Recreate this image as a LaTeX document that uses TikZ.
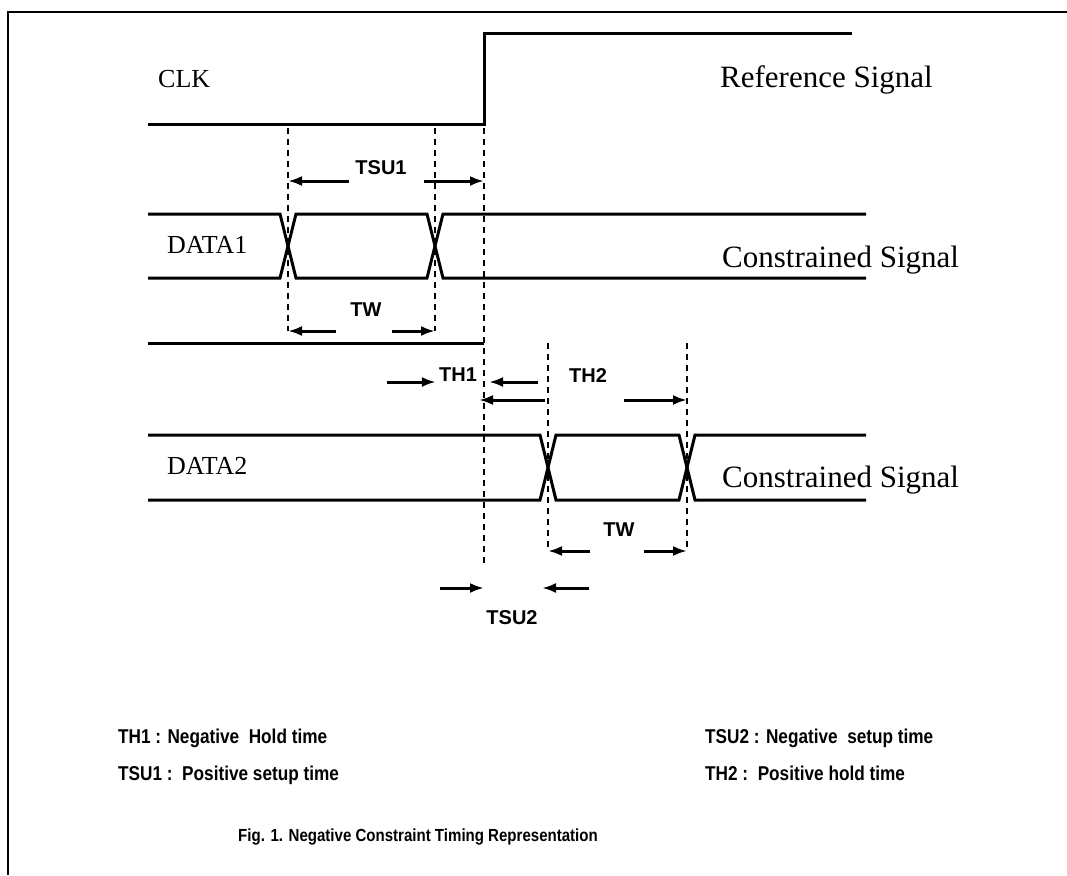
\documentclass[tikz,border=0pt]{standalone}
\usepackage{fontspec}
\setmainfont{Liberation Serif}
\setsansfont{Liberation Sans}
\newfontfamily\legendfont[FakeStretch=0.86]{Liberation Sans}
\usetikzlibrary{arrows.meta,positioning,calc}

\begin{document}
\begin{tikzpicture}[x=1pt, y=-1pt,
  wave/.style={line width=3pt, line join=miter},
  guide/.style={line width=2.8pt, dash pattern=on 6pt off 5pt},
  arr/.style={-{Latex[length=14pt, width=10pt]}, line width=3pt},
  signame/.style={font=\fontsize{26}{30}\selectfont, anchor=base west, inner sep=0pt},
  sigkind/.style={font=\fontsize{31}{36}\selectfont, anchor=base west, inner sep=0pt},
  tlabel/.style={font=\fontsize{20}{24}\selectfont\sffamily\bfseries, inner sep=0pt},
  legend/.style={font=\fontsize{20}{24}\selectfont\legendfont\bfseries, anchor=base west, inner sep=0pt}
]
  \useasboundingbox (0,0) rectangle (1067,875);
  \draw[line width=2.6pt] (8,875) -- (8,12) -- (1067,12);

  \draw[wave] (148,124) -- (484,124) -- (484,34) -- (852,34);
  \draw[wave] (148,343) -- (484,343);
  \foreach \hi/\lo/\a/\b in {214/278/288/435, 435/500/548/687} {
    \draw[wave] (148,\hi) -- (\a-8,\hi) -- (\a+8,\lo) -- (\b-8,\lo) -- (\b+8,\hi) -- (866,\hi);
    \draw[wave] (148,\lo) -- (\a-8,\lo) -- (\a+8,\hi) -- (\b-8,\hi) -- (\b+8,\lo) -- (866,\lo);
  }

  \node[signame] (clk) at (158,87) {CLK};
  \node[signame] (data1) at (167,253) {DATA1};
  \node[signame] (data2) at (167,474) {DATA2};
  \node[sigkind] (refsig) at (720,87) {Reference Signal};
  \node[sigkind] (con1) at (722,267) {Constrained Signal};
  \node[sigkind] (con2) at (722,487) {Constrained Signal};

  \coordinate (g1) at (288,128);
  \coordinate (g2) at (435,128);
  \coordinate (g3) at (484,128);
  \coordinate (g4) at (548,343);
  \coordinate (g5) at (687,343);
  \coordinate (twA) at (0,331);
  \coordinate (twB) at (0,551);
  \coordinate (gend) at (0,567);

  \draw[guide] (g1) -- (g1 |- twA);
  \draw[guide] (g2) -- (g2 |- twA);
  \draw[guide] (g3) -- (g3 |- gend);
  \draw[guide] (g4) -- (g4 |- twB);
  \draw[guide] (g5) -- (g5 |- twB);

  \node[tlabel] (tsu1) at (381,168) {TSU1};
  \node[tlabel] (tw1) at (366,310) {TW};
  \node[tlabel] (th1) at (458,375) {TH1};
  \node[tlabel] (th2) at (588,376) {TH2};
  \node[tlabel] (tw2) at (619,530) {TW};
  \node[tlabel] (tsu2) at (512,618) {TSU2};

  \coordinate (a1) at (349,181);
  \coordinate (a2) at (424,181);
  \coordinate (a3) at (336,331);
  \coordinate (a4) at (392,331);
  \coordinate (a5) at (387,382);
  \coordinate (a6) at (538,382);
  \coordinate (a7) at (545,400);
  \coordinate (a8) at (624,400);
  \coordinate (a9) at (590,551);
  \coordinate (a10) at (644,551);
  \coordinate (a11) at (440,588);
  \coordinate (a12) at (589,588);

  \draw[arr] (a1) -- (a1 -| g1);
  \draw[arr] (a2) -- (a2 -| g3);
  \draw[arr] (a3) -- (a3 -| g1);
  \draw[arr] (a4) -- (a4 -| g2);
  \draw[arr] (a5) -- ([xshift=-3pt]a5 -| th1.west);
  \draw[arr] (a6) -- ([xshift=5pt]a6 -| g3);
  \draw[arr] (a7) -- ([xshift=-5pt]a7 -| g3);
  \draw[arr] (a8) -- (a8 -| g5);
  \draw[arr] (a9) -- (a9 -| g4);
  \draw[arr] (a10) -- (a10 -| g5);
  \draw[arr] (a11) -- (a11 -| g3);
  \draw[arr] (a12) -- ([xshift=-6pt]a12 -| g4);

  \node[legend] (leg1) at (118,743) {TH1 : Negative\ \ Hold time};
  \node[legend] (leg2) at (118,780) {TSU1 :\ \ Positive setup time};
  \node[legend] (leg3) at (705,743) {TSU2 : Negative\ \ setup time};
  \node[legend] (leg4) at (705,780) {TH2 :\ \ Positive hold time};
  \node[legend, font=\fontsize{17.5}{21}\selectfont\legendfont\bfseries] (caption) at (238,841) {Fig. 1. Negative Constraint Timing Representation};
\end{tikzpicture}
\end{document}
